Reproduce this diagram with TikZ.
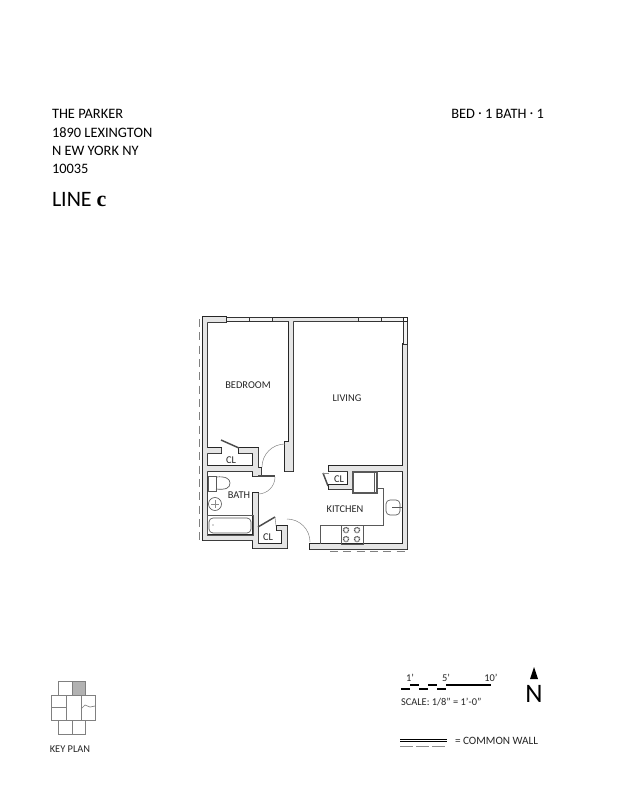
\documentclass[tikz,border=0pt]{standalone}
\usepackage{fontspec}
\setmainfont{Carlito}
\newfontfamily\serifbold{Liberation Serif}[Scale=1.0]
\usetikzlibrary{positioning}
\begin{document}
\begin{tikzpicture}[x=0.75pt,y=-0.75pt,node distance=13.7pt,outer sep=0pt,inner sep=0pt]
\tikzstyle{address} = [font=\fontsize{10.8}{12}\selectfont]
\tikzstyle{room} = [font=\fontsize{7.8}{9}\selectfont, text=black!85]
\tikzstyle{small} = [font=\fontsize{7.8}{9}\selectfont, text=black!85]
\tikzstyle{wall} = [fill=black!10, preaction={draw=black!85, line width=1.1pt}]
\tikzstyle{window} = [draw=black!80, fill=black!5, line width=0.65pt]
\tikzstyle{fixture} = [draw=black!65, line width=0.5pt]
\tikzstyle{swing} = [draw=black!45, line width=0.4pt]
\tikzstyle{leaf} = [draw=black!70, line width=1.1pt]
\tikzstyle{broken} = [draw=black!50, line width=0.6pt, dash pattern=on 6pt off 4pt]

\useasboundingbox (0,0) rectangle (618,800);
\fill[white] (0,0) rectangle (618,800);

% Address
\node[address, anchor=west] at (52,114) (parker) {THE PARKER};
\node[address, below=of parker.west, anchor=west] (street) {1890 LEXINGTON};
\node[address, below=of street.west, anchor=west] (city) {N EW YORK NY};
\node[address, below=of city.west, anchor=west] (zip) {10035};
\node[anchor=west, font=\fontsize{16.5}{18}\selectfont] at (52,200) (line) {LINE {\serifbold\bfseries c}};
\node[address, anchor=east] at (544,114) (beds) {BED\,{\Large$\cdot$}\,1 BATH\,{\Large$\cdot$}\,1};

% Walls
\path[wall]
  (203,317) rectangle (207,540) (203,317) rectangle (226,322)
  (272,318) rectangle (358,321)
  (289,321) rectangle (293,442) (285,442) rectangle (293,471)
  (207,448) rectangle (221,453) (239,448) rectangle (258,453)
  (253,448) rectangle (258,472) (207,466) rectangle (258,471)
  (253,468) rectangle (261,476)
  (203,535) rectangle (258,540)
  (253,493) rectangle (258,548) (253,544) rectangle (287,548)
  (282,526) rectangle (287,548) (277,526) rectangle (287,530)
  (403,344) rectangle (407,549) (310,544) rectangle (407,549)
  (329,466) rectangle (403,471) (329,485) rectangle (352,489)
  (348,471) rectangle (352,489);

% Windows
\draw[window] (226,317) rectangle (272,321) (249,317) -- (249,321);
\draw[window] (358,317) rectangle (403,321) (381,317) -- (381,321);
\draw[window] (403,321) rectangle (407,344);
\draw[draw=black!85, fill=white, line width=0.7pt] (403,317) rectangle (407,321);
\draw[broken] (199,319) -- (199,540);
\draw[broken] (330,551) -- (407,551);

% Doors
\draw[leaf] (221,440) -- (239,448);
\draw[swing] (262,467) arc[start angle=180, end angle=270, radius=23];
\draw[leaf] (258,476) -- (275,476);
\draw[swing] (275,477) arc[start angle=0, end angle=90, radius=17];
\draw[leaf] (258,527) -- (275,517);
\draw[swing] (275,517) -- (276,526);
\draw[swing] (287,519) arc[start angle=-90, end angle=0, radius=23];
\draw[leaf] (323,473) -- (328,486);
\draw[swing] (323,473) -- (329,473);

% Bath
\draw[fixture] (208,476) rectangle (216,491);
\draw[fixture] (216,477) .. controls (226,476) and (230,479) .. (230,483) .. controls (230,488) and (226,490) .. (216,489);
\draw[fixture] (215,504) circle[radius=6.5];
\draw[swing] (211,504) -- (219,504) (215,500) -- (215,508);
\draw[fixture] (207,515) rectangle (253,535);
\draw[fixture, rounded corners=3pt] (209,518) rectangle (251,533);
\fill[black!70] (213,525) circle[radius=0.7];

% Kitchen
\draw[fixture, line width=0.9pt] (353,472) rectangle (377,493);
\draw[fixture] (374,472) -- (374,493);
\draw[fixture] (377,488) -- (383,488) -- (383,525) -- (320,525) -- (320,544);
\draw[fixture, rounded corners=3pt] (386,500) rectangle (400,515);
\draw[fixture] (392,507) -- (402,507);
\draw[fixture] (341,525) rectangle (363,544);
\foreach \bx in {346,357} {
  \foreach \by in {530,539} {
    \draw[draw=black!70, line width=0.9pt, dash pattern=on 0.8pt off 0.5pt] (\bx,\by) circle[radius=2.6];
  }
}

% Rooms
\node[room] at (248,385) (bedroom) {BEDROOM};
\node[room] at (347,398) (living) {LIVING};
\node[room] at (345,509) (kitchen) {KITCHEN};
\node[room] at (239,495) (bath) {BATH};
\node[room] at (231,460) (clbed) {CL};
\node[room] at (268,537) (clbath) {CL};
\node[room] at (339,479) (clkit) {CL};

% Scale
\draw[line width=1.6pt] (401,689) -- (410,689) (410,685) -- (419,685) (419,689) -- (428,689) (428,685) -- (437,685) (437,689) -- (446,689);
\draw[line width=1.6pt] (446,685) -- (491,685);
\node[small] at (410,678) (one) {1'};
\node[small] at (446,678) (five) {5'};
\node[small] at (491,678) (ten) {10'};
\node[small, anchor=west] at (401,702) (scale) {SCALE: 1/8'' = 1'-0''};
\fill[black] (534,667) -- (538,679) -- (530,679) -- cycle;
\node[font=\fontsize{20}{20}\selectfont] at (534,694) (north) {N};

% Common wall
\draw[black, line width=0.5pt] (400,739) -- (447,739) (400,741.5) -- (447,741.5);
\draw[black!45, line width=0.7pt, dash pattern=on 10pt off 2pt] (400,746) -- (447,746);
\node[anchor=west, text=black!85, font=\fontsize{8.4}{10}\selectfont] at (455,741) (common) {= COMMON WALL};

% Key plan
\fill[black!30] (72,681) rectangle (85,695);
\draw[black!50, line width=0.5pt] (58,681) rectangle (85,695) (72,681) -- (72,695);
\draw[black!50, line width=0.5pt] (51,695) rectangle (95,720) (66,695) -- (66,720) (81,695) -- (81,720) (51,707) -- (66,707);
\draw[black!50, line width=0.5pt] (58,720) rectangle (85,734) (72,720) -- (72,734);
\draw[black!50, line width=0.5pt] (81,709) -- (85,705) -- (90,707) -- (95,706);
\node[small] at (70,749) (keyplan) {KEY PLAN};
\end{tikzpicture}
\end{document}
